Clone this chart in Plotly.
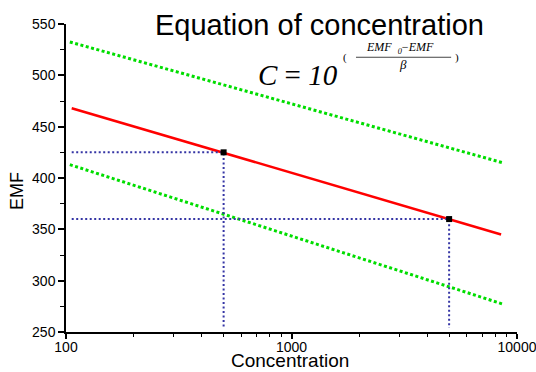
import plotly.graph_objects as go

# fitted line and its two confidence limits (concentration, EMF)
fit_conc = [106, 8500]
fit_emf = [468, 345]
upper_conc = [104, 8600]
upper_emf = [532.5, 415]
lower_conc = [104, 8700]
lower_emf = [413, 277]

# read-off points
point_conc = [500, 5000]
point_emf = [425, 360]
guide_start = 106
guide_floor = 254

x_ticks = [100, 1000, 10000]
x_tick_text = ["100", "1000", "10000"]
x_minor = [200, 300, 400, 500, 600, 700, 800, 900,
           2000, 3000, 4000, 5000, 6000, 7000, 8000, 9000]

fig = go.Figure()

fig.add_trace(go.Scatter(x=upper_conc, y=upper_emf, mode="lines",
                         line=dict(color="#00dd00", width=3, dash="3px,2.5px")))
fig.add_trace(go.Scatter(x=lower_conc, y=lower_emf, mode="lines",
                         line=dict(color="#00dd00", width=3, dash="3px,2.5px")))
fig.add_trace(go.Scatter(x=fit_conc, y=fit_emf, mode="lines",
                         line=dict(color="#ff0000", width=2.5)))

# dotted guide lines from each point to the axes
gx, gy = [], []
for c, e in zip(point_conc, point_emf):
    gx += [guide_start, c, c, None]
    gy += [e, e, guide_floor, None]
fig.add_trace(go.Scatter(x=gx, y=gy, mode="lines",
                         line=dict(color="#3535a5", width=2, dash="2px,2.5px")))

fig.add_trace(go.Scatter(x=point_conc, y=point_emf, mode="markers",
                         marker=dict(symbol="square", size=6, color="black")))

font = "Liberation Sans, Arial, sans-serif"
serif = "Liberation Serif, Times New Roman, serif"

fig.update_layout(
    width=536, height=372,
    margin=dict(l=65.5, r=18.5, t=24, b=40.3),
    paper_bgcolor="white", plot_bgcolor="white",
    showlegend=False,
    font=dict(family=font, color="black"),
)

fig.update_xaxes(
    type="log", range=[2, 4], automargin=False,
    tickvals=x_ticks, ticktext=x_tick_text, ticklabeloverflow="allow",
    ticks="outside", ticklen=5, tickwidth=1.5, tickcolor="black",
    ticklabelstandoff=-4,
    showline=True, linecolor="black", linewidth=1.5,
    showgrid=False, zeroline=False,
    tickfont=dict(size=14),
    minor=dict(tickvals=x_minor, ticks="outside", ticklen=3, tickwidth=1.2,
               tickcolor="black", showgrid=False),
)
fig.update_yaxes(
    range=[250, 550], dtick=50, automargin=False,
    ticks="outside", ticklen=6, tickwidth=1.5, tickcolor="black",
    showline=True, linecolor="black", linewidth=1.5,
    showgrid=False, zeroline=False,
    tickfont=dict(size=14),
    minor=dict(dtick=25, ticks="outside", ticklen=4, tickwidth=1.2,
               tickcolor="black", showgrid=False),
)

# axis titles
fig.add_annotation(text="Concentration", xref="paper", yref="paper",
                   x=0.497, y=-0.094, xanchor="center", yanchor="middle",
                   showarrow=False, font=dict(size=19, family=font))
fig.add_annotation(text="EMF", xref="paper", yref="paper", textangle=-90,
                   x=-0.107, y=0.457, xanchor="center", yanchor="middle",
                   showarrow=False, font=dict(size=18, family=font))

# title and equation
fig.add_annotation(text="Equation of concentration", xref="paper", yref="paper",
                   x=0.561, y=0.998, xanchor="center", yanchor="middle",
                   showarrow=False, font=dict(size=29, family=font))
fig.add_annotation(text="<i>C</i> = <i>10</i>", xref="paper", yref="paper",
                   x=0.514, y=0.833, xanchor="center", yanchor="middle",
                   showarrow=False, font=dict(size=29, family=serif))
fig.add_annotation(text="(", xref="paper", yref="paper",
                   x=0.618, y=0.891, xanchor="center", yanchor="middle",
                   showarrow=False, font=dict(size=11, family=serif))
fig.add_annotation(text=")", xref="paper", yref="paper",
                   x=0.867, y=0.891, xanchor="center", yanchor="middle",
                   showarrow=False, font=dict(size=11, family=serif))
fig.add_annotation(text="<i>EMF</i>  <sub><i>0</i></sub>\u2212<i>EMF</i>", xref="paper", yref="paper",
                   x=0.740, y=0.922, xanchor="center", yanchor="middle",
                   showarrow=False, font=dict(size=12, family=serif))
fig.add_annotation(text="<i>\u03b2</i>", xref="paper", yref="paper",
                   x=0.747, y=0.867, xanchor="center", yanchor="middle",
                   showarrow=False, font=dict(size=13, family=serif))
fig.add_shape(type="line", xref="paper", yref="paper",
              x0=0.643, x1=0.854, y0=0.892, y1=0.892,
              line=dict(color="#444444", width=1))

# the page's default body margin would push the figure 8px off the window
fig.write_html("out.html", config={"displayModeBar": False},
               post_script="document.body.style.margin='0';")
